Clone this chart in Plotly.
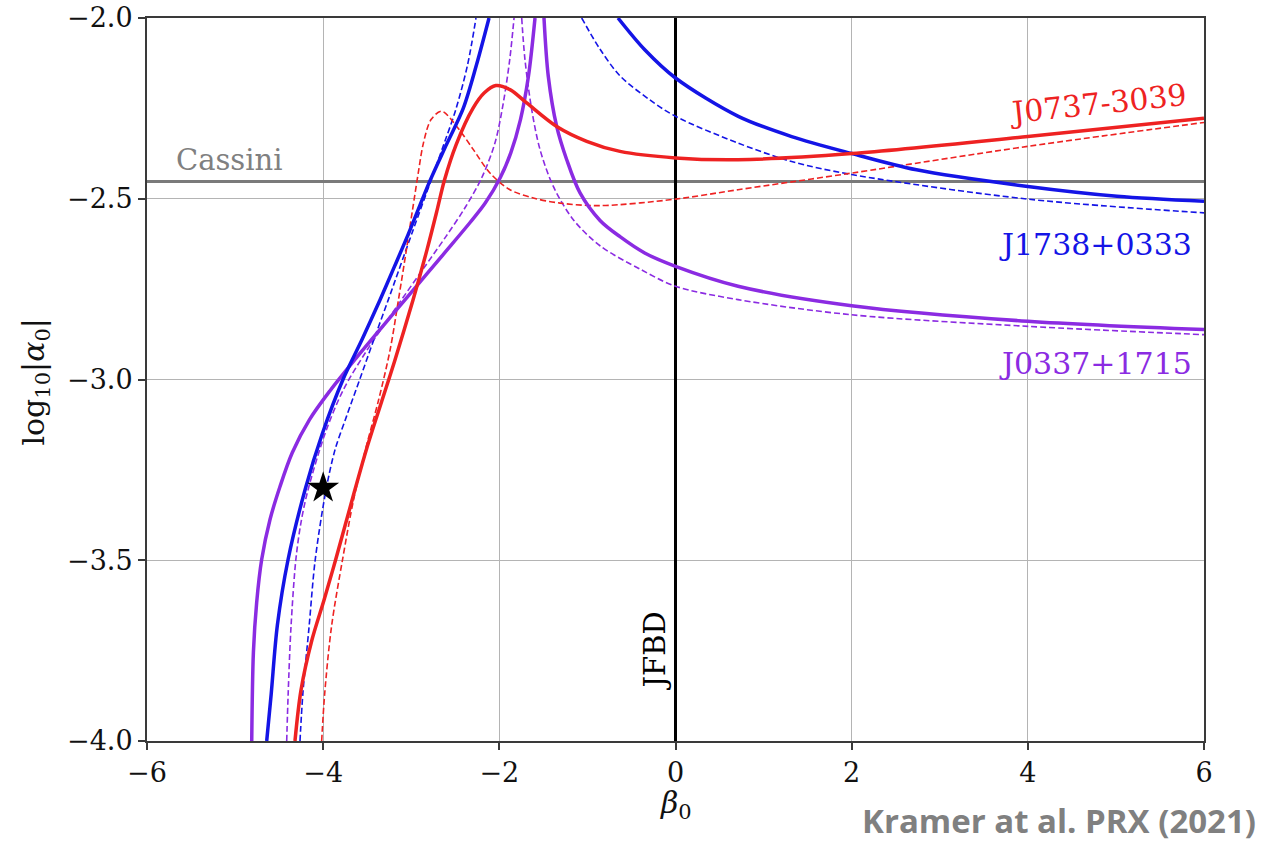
import plotly.graph_objects as go

# ---------------- data (beta_0, log10|alpha_0|) ----------------
# J1738+0333 (blue)
j1738_solid_left_beta = [-4.641, -4.590, -4.520, -4.400, -4.200, -4.010, -3.775, -3.560, -3.355,
                         -3.195, -3.037, -2.787, -2.600, -2.410, -2.260, -2.117]
j1738_solid_left_alpha = [-4.0, -3.87, -3.68, -3.50, -3.30, -3.15, -3.0, -2.89, -2.78,
                          -2.69, -2.60, -2.45, -2.35, -2.25, -2.13, -2.0]
j1738_solid_right_beta = [-0.653, -0.349, 0.0, 0.713, 1.319, 2.003, 2.736, 4.0, 5.013, 6.0]
j1738_solid_right_alpha = [-2.0, -2.088, -2.166, -2.272, -2.328, -2.375, -2.420, -2.466, -2.493, -2.507]
j1738_dash_left_beta = [-4.263, -4.230, -4.160, -4.090, -3.965, -3.865, -3.735, -3.585, -3.425,
                        -3.260, -2.990, -2.780, -2.625, -2.495, -2.360, -2.265]
j1738_dash_left_alpha = [-4.0, -3.867, -3.684, -3.498, -3.302, -3.194, -3.102, -3.0, -2.890,
                         -2.779, -2.594, -2.452, -2.346, -2.254, -2.129, -2.0]
j1738_dash_right_beta = [-1.065, -0.860, -0.630, -0.300, 0.0, 0.710, 1.319, 2.0, 4.0, 6.0]
j1738_dash_right_alpha = [-2.0, -2.085, -2.160, -2.225, -2.272, -2.346, -2.397, -2.433, -2.501, -2.539]

# J0737-3039 (red)
j0737_solid_beta = [-4.320, -4.252, -4.127, -3.990, -3.860, -3.645, -3.505, -3.335, -3.190, -2.980,
                    -2.820, -2.705, -2.625, -2.490, -2.300, -2.170, -2.040, -1.879, -1.689, -1.349,
                    -1.008, -0.630, 0.0, 0.710, 2.0, 4.0, 6.0]
j0737_solid_alpha = [-4.0, -3.86, -3.72, -3.61, -3.50, -3.31, -3.19, -3.06, -2.95, -2.78,
                     -2.64, -2.53, -2.45, -2.35, -2.25, -2.207, -2.187, -2.198, -2.235, -2.300,
                     -2.341, -2.369, -2.387, -2.392, -2.375, -2.328, -2.277]
j0737_dash_beta = [-4.017, -3.982, -3.905, -3.780, -3.655, -3.520, -3.370, -3.240, -3.145, -3.055,
                   -2.985, -2.915, -2.862, -2.775, -2.654, -2.484, -2.295, -2.106, -1.879, -1.614,
                   -1.311, -0.857, 0.0, 0.710, 2.0, 4.0, 6.0]
j0737_dash_alpha = [-4.0, -3.867, -3.683, -3.498, -3.333, -3.194, -3.056, -2.918, -2.779, -2.641,
                    -2.530, -2.420, -2.346, -2.281, -2.258, -2.300, -2.364, -2.429, -2.475, -2.498,
                    -2.512, -2.519, -2.501, -2.475, -2.429, -2.355, -2.289]

# J0337+1715 (purple)
j0337_solid_left_beta = [-4.811, -4.792, -4.755, -4.698, -4.604, -4.490, -4.350, -4.155, -3.922,
                         -3.590, -3.315, -3.045, -2.640, -2.330, -2.160, -1.990, -1.870, -1.760,
                         -1.670, -1.595]
j0337_solid_left_alpha = [-4.0, -3.755, -3.617, -3.498, -3.388, -3.296, -3.202, -3.111, -3.031,
                          -2.930, -2.850, -2.772, -2.655, -2.565, -2.512, -2.442, -2.373, -2.281,
                          -2.162, -2.0]
j0337_solid_right_beta = [-1.493, -1.444, -1.349, -1.235, -1.084, -0.857, -0.630, -0.350, 0.0,
                          0.710, 2.0, 4.0, 6.0]
j0337_solid_right_alpha = [-2.0, -2.162, -2.300, -2.392, -2.484, -2.560, -2.605, -2.650, -2.687,
                           -2.742, -2.796, -2.839, -2.862]
j0337_dash_left_beta = [-4.414, -4.397, -4.365, -4.310, -4.255, -4.180, -3.975, -3.770, -3.500,
                        -3.135, -2.870, -2.605, -2.390, -2.200, -2.050, -1.955, -1.882, -1.833]
j0337_dash_left_alpha = [-4.0, -3.867, -3.683, -3.498, -3.40, -3.313, -3.147, -3.028, -2.918,
                         -2.788, -2.696, -2.604, -2.525, -2.442, -2.346, -2.235, -2.115, -2.0]
j0337_dash_right_beta = [-1.746, -1.709, -1.632, -1.538, -1.387, -1.160, -0.857, -0.400, 0.0,
                         0.710, 2.0, 4.0, 6.0]
j0337_dash_right_alpha = [-2.0, -2.115, -2.254, -2.364, -2.466, -2.558, -2.630, -2.695, -2.742,
                          -2.779, -2.821, -2.853, -2.876]

cassini_alpha = -2.452
jfbd_beta = 0.0
star_beta = [-4.0]
star_alpha = [-3.30]

x_ticks = [-6, -4, -2, 0, 2, 4, 6]
x_tick_text = ["\u22126", "\u22124", "\u22122", "0", "2", "4", "6"]
y_ticks = [-4.0, -3.5, -3.0, -2.5, -2.0]
y_tick_text = ["\u22124.0", "\u22123.5", "\u22123.0", "\u22122.5", "\u22122.0"]
x_range = [-6, 6]
y_range = [-4, -2]

# ---------------- styling ----------------
BLUE = "#1414e6"
RED = "#ee2222"
PURPLE = "#8b2be2"
SERIF = "DejaVu Serif, serif"
SOLID_W = 3.5
DASH_W = 1.6
DASH = "6px,3px"

fig = go.Figure()

# reference lines
fig.add_trace(go.Scatter(x=x_range, y=[cassini_alpha, cassini_alpha], mode="lines",
                         line=dict(color="#7a7a7a", width=3), hoverinfo="skip"))
fig.add_trace(go.Scatter(x=[jfbd_beta, jfbd_beta], y=y_range, mode="lines",
                         line=dict(color="black", width=3), hoverinfo="skip"))


def add_curve(bx, ay, color, dashed):
    fig.add_trace(go.Scatter(
        x=bx, y=ay, mode="lines",
        line=dict(color=color, width=DASH_W if dashed else SOLID_W,
                  dash=DASH if dashed else "solid", shape="spline", smoothing=0.9)))


add_curve(j0337_dash_left_beta, j0337_dash_left_alpha, PURPLE, True)
add_curve(j0337_dash_right_beta, j0337_dash_right_alpha, PURPLE, True)
add_curve(j1738_dash_left_beta, j1738_dash_left_alpha, BLUE, True)
add_curve(j1738_dash_right_beta, j1738_dash_right_alpha, BLUE, True)
add_curve(j0737_dash_beta, j0737_dash_alpha, RED, True)
add_curve(j0337_solid_left_beta, j0337_solid_left_alpha, PURPLE, False)
add_curve(j0337_solid_right_beta, j0337_solid_right_alpha, PURPLE, False)
add_curve(j1738_solid_left_beta, j1738_solid_left_alpha, BLUE, False)
add_curve(j1738_solid_right_beta, j1738_solid_right_alpha, BLUE, False)
add_curve(j0737_solid_beta, j0737_solid_alpha, RED, False)

fig.add_trace(go.Scatter(x=star_beta, y=star_alpha, mode="markers",
                         marker=dict(symbol="star", size=24, color="black",
                                     line=dict(width=0))))

axis_common = dict(
    showgrid=True, gridcolor="#b4b4b4", gridwidth=1.3, zeroline=False,
    showline=True, linecolor="#3a3a3a", linewidth=2, mirror=True,
    ticks="outside", ticklen=7, tickwidth=1.5, tickcolor="#3a3a3a",
    tickfont=dict(family=SERIF, size=27, color="#111"), automargin=False,
)

fig.update_layout(
    width=1264, height=844,
    margin=dict(l=147, r=60, t=18, b=103, autoexpand=False),
    paper_bgcolor="white", plot_bgcolor="white",
    showlegend=False,
    xaxis=dict(range=x_range, tickvals=x_ticks, ticktext=x_tick_text, **axis_common),
    yaxis=dict(range=y_range, tickvals=y_ticks, ticktext=y_tick_text, **axis_common),
)

annotations = [
    dict(x=4.80, y=-2.237, xref="x", yref="y", text="J0737-3039", showarrow=False,
         xanchor="center", yanchor="middle",
         textangle=-6, font=dict(family=SERIF, size=30, color=RED)),
    dict(x=4.77, y=-2.627, xref="x", yref="y", text="J1738+0333", showarrow=False,
         xanchor="center", yanchor="middle",
         font=dict(family=SERIF, size=30, color=BLUE)),
    dict(x=4.77, y=-2.956, xref="x", yref="y", text="J0337+1715", showarrow=False,
         xanchor="center", yanchor="middle",
         font=dict(family=SERIF, size=30, color=PURPLE)),
    dict(x=-5.07, y=-2.392, xref="x", yref="y", text="Cassini", showarrow=False,
         xanchor="center", yanchor="middle",
         font=dict(family=SERIF, size=29, color="#808080")),
    dict(x=-0.233, y=-3.75, xref="x", yref="y", text="JFBD", showarrow=False,
         xanchor="center", yanchor="middle",
         textangle=-90, font=dict(family=SERIF, size=29, color="black")),
    dict(x=-0.1064, y=0.4965, xref="paper", yref="paper",
         xanchor="center", yanchor="middle",
         text="log<sub>10</sub>|<i>α</i><sub>0</sub>|", showarrow=False, textangle=-90,
         font=dict(family=SERIF, size=30, color="#111")),
    dict(x=0.5005, y=-0.0885, xref="paper", yref="paper",
         xanchor="center", yanchor="middle",
         text="<i>β</i><sub>0</sub>", showarrow=False,
         font=dict(family=SERIF, size=30, color="#111")),
    dict(x=1.051, y=-0.110, xref="paper", yref="paper", xanchor="right", yanchor="middle",
         text="<b>Kramer at al. PRX (2021)</b>", showarrow=False,
         font=dict(family="Open Sans, sans-serif", size=33, color="#808080")),
]
fig.update_layout(annotations=annotations)

fig.write_html("out.html")
